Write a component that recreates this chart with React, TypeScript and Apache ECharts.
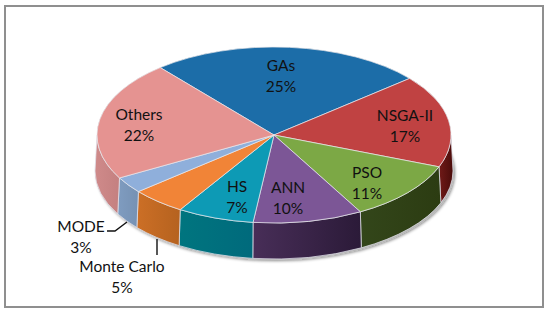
import React, { useEffect, useRef } from "react";
import * as echarts from "echarts";

const categories = ["GAs", "NSGA-II", "PSO", "ANN", "HS", "Monte Carlo", "MODE", "Others"];
const shares = [25, 17, 11, 10, 7, 5, 3, 22];
const topColors = ["#1c6da8", "#c04242", "#7ca845", "#7c5696", "#0d9ab5", "#f18437", "#8fafdb", "#e59391"];
const wallLeft = ["#145080", "#701a18", "#33461a", "#482e58", "#00757f", "#cc6f26", "#7f9cc0", "#cf8a8a"];
const wallRight = ["#103f66", "#4a0c0a", "#2c3c12", "#2b1a38", "#006a7c", "#b5621f", "#7691b3", "#c48080"];

const CX = 274, CY = 135, RX = 177, RY = 88, DEPTH = 36, START = -40;
const BRX = 179;

const labelCentres: Record<string, [number, number]> = {
  GAs: [281, 75],
  "NSGA-II": [405, 125],
  PSO: [367, 182],
  ANN: [288, 197],
  HS: [237, 196],
  "Monte Carlo": [122, 276],
  MODE: [81, 236],
  Others: [139, 124],
};

const rad = (d: number) => (d * Math.PI) / 180;
const px = (a: number, rx = RX) => CX + rx * Math.sin(rad(a));
const py = (a: number, dy = 0) => CY - RY * Math.cos(rad(a)) + dy;
const total = shares.reduce((s, v) => s + v, 0);
const range = (i: number): [number, number] => {
  const before = shares.slice(0, i).reduce((s, v) => s + v, 0);
  return [START + (before / total) * 360, START + ((before + shares[i]) / total) * 360];
};

export default function App() {
  const ref = useRef<HTMLDivElement>(null);
  useEffect(() => {
    const chart = echarts.init(ref.current!, null, { renderer: "svg" });
    const data = shares.map((v) => [v]);
    chart.setOption({
      animation: false,
      backgroundColor: "#ffffff",
      graphic: [
        {
          type: "rect",
          z: 0,
          shape: { x: 5, y: 6, width: 538, height: 301 },
          style: { fill: "none", stroke: "#8f8f8f", lineWidth: 2 },
        },
        { type: "polyline", z: 5, shape: { points: [[107, 231], [115, 231], [127, 222]] }, style: { fill: "none", stroke: "#111", lineWidth: 1.4 } },
        { type: "line", z: 5, shape: { x1: 157, y1: 239, x2: 157, y2: 255 }, style: { stroke: "#111", lineWidth: 1.4 } },
      ],
      series: [
        {
          type: "custom",
          coordinateSystem: "none",
          silent: true,
          z: 2,
          data,
          renderItem: (params: any) => {
            const i = params.dataIndex;
            const [a0, a1] = range(i);
            const children: any[] = [];
            if (i === 0) {
              children.push({
                type: "ellipse",
                shape: { cx: CX + 1, cy: CY + DEPTH + 1, rx: BRX, ry: RY },
                style: { fill: "#b5b5b5", shadowBlur: 3, shadowColor: "rgba(0,0,0,0.45)", shadowOffsetX: 1, shadowOffsetY: 1 },
              });
              children.push({
                type: "ellipse",
                shape: { cx: CX, cy: CY, rx: RX, ry: RY },
                style: { fill: "#b5b5b5" },
              });
            }
            const s = Math.max(a0, 90), e = Math.min(a1, 270);
            if (s < e) {
              const d = [
                `M${px(s)} ${py(s)}`,
                `A${RX} ${RY} 0 0 1 ${px(e)} ${py(e)}`,
                `L${px(e, BRX)} ${py(e, DEPTH)}`,
                `A${BRX} ${RY} 0 0 0 ${px(s, BRX)} ${py(s, DEPTH)}Z`,
              ].join("");
              // Angles run clockwise, so on the front wall the start angle is the right-hand end.
              children.push({
                type: "path",
                shape: { pathData: d },
                style: {
                  fill: new echarts.graphic.LinearGradient(0, 0, 1, 0, [
                    { offset: 0, color: wallLeft[i] },
                    { offset: 1, color: wallRight[i] },
                  ]),
                  stroke: "rgba(225,225,235,0.75)",
                  lineWidth: 1,
                },
              });
            }
            return { type: "group", children };
          },
        },
        {
          type: "custom",
          coordinateSystem: "none",
          silent: true,
          z: 3,
          data,
          renderItem: (params: any) => {
            const i = params.dataIndex;
            const [a0, a1] = range(i);
            const large = a1 - a0 > 180 ? 1 : 0;
            const d = `M${CX} ${CY}L${px(a0)} ${py(a0)}A${RX} ${RY} 0 ${large} 1 ${px(a1)} ${py(a1)}Z`;
            return {
              type: "path",
              shape: { pathData: d },
              style: { fill: topColors[i], stroke: "rgba(235,235,240,0.7)", lineWidth: 1 },
            };
          },
        },
        {
          type: "custom",
          coordinateSystem: "none",
          silent: true,
          z: 4,
          data,
          renderItem: (params: any, api: any) => {
            const i = params.dataIndex;
            const name = categories[i];
            const [x, y] = labelCentres[name];
            return {
              type: "text",
              x,
              y,
              style: {
                text: `${name}\n${api.value(0)}%`,
                fontFamily: "Lato",
                fontSize: 15.5,
                lineHeight: 21,
                fill: "#111111",
                align: "center",
                verticalAlign: "middle",
              },
            };
          },
        },
      ],
    });
    return () => chart.dispose();
  }, []);
  return <div ref={ref} style={{ position: "absolute", left: 0, top: 0, width: 550, height: 313 }} />;
}
